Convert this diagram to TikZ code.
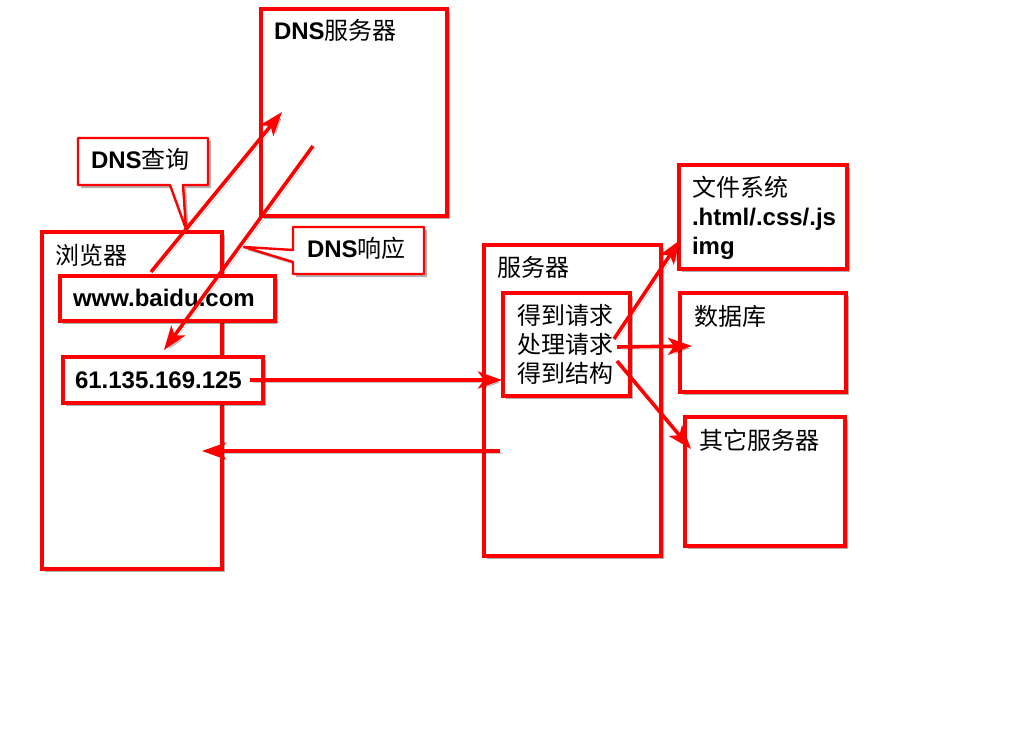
\documentclass[tikz,border=0pt]{standalone}
\usepackage{fontspec}
\setmainfont{Liberation Sans}
\newfontfamily\cjk[Scale=1.0]{Noto Sans CJK SC}
\usetikzlibrary{arrows.meta,shadows}
\tikzset{
  box/.style={draw=red, line width=3.2pt, fill=white, inner sep=0pt, outer sep=0pt,
    anchor=north west,
    drop shadow={shadow xshift=3pt, shadow yshift=-3pt, fill=black, opacity=0.3}},
  callout/.style={draw=red, line width=2.4pt, fill=white, line join=round,
    drop shadow={shadow xshift=3pt, shadow yshift=-3pt, fill=black, opacity=0.3}},
  txt/.style={font=\fontsize{24}{29}\selectfont, inner sep=0pt, outer sep=0pt,
    anchor=base west, align=left, text=black},
  arr/.style={draw=red, line width=3.6pt,
    -{Stealth[length=24pt, width=17pt, inset=6pt]},
    preaction={draw=black, opacity=0.22, transform canvas={xshift=2.5pt, yshift=-2.5pt}}}
}
\begin{document}
\begin{tikzpicture}[x=1pt, y=-1pt]
\useasboundingbox[fill=white] (0,0) rectangle (1024,738);

% main boxes
\node[box, minimum width=180pt, minimum height=337pt] (browser) at (42,232) {};
\node[box, minimum width=186pt, minimum height=207pt] (dns) at (261,9) {};
\node[box, minimum width=177pt, minimum height=311pt] (server) at (484,245) {};
\node[box, minimum width=168pt, minimum height=104pt] (fs) at (679,165) {};
\node[box, minimum width=166pt, minimum height=99pt] (db) at (680,293) {};
\node[box, minimum width=160pt, minimum height=129pt] (other) at (685,417) {};

% inner boxes
\node[box, minimum width=215pt, minimum height=45pt] (baidu) at (60,276) {};
\node[box, minimum width=200pt, minimum height=46pt] (ip) at (63,357) {};
\node[box, minimum width=127pt, minimum height=103pt] (proc) at (503,293) {};

% callouts
\draw[callout] (78,138) -- (208,138) -- (208,185) -- (183,185) -- (186,229)
  -- (170,185) -- (78,185) -- cycle;
\draw[callout] (293,227) -- (424,227) -- (424,274) -- (293,274) -- (293,262)
  -- (244,247) -- (293,250) -- cycle;

% texts
\node[txt] (browserlbl) at (55,264) {{\cjk 浏览器}};
\node[txt] (dnslbl) at (274,40) {\textbf{DNS}{\cjk 服务器}};
\node[txt] (querylbl) at (91,168) {\textbf{DNS}{\cjk 查询}};
\node[txt] (resplbl) at (307,257) {\textbf{DNS}{\cjk 响应}};
\node[txt] (baidulbl) at (73,306) {\textbf{www.baidu.com}};
\node[txt] (iplbl) at (75,388) {\textbf{61.135.169.125}};
\node[txt] (serverlbl) at (497,276) {{\cjk 服务器}};
\node[txt] (proclbl) at (517,382) {{\cjk 得到请求}\\{\cjk 处理请求}\\{\cjk 得到结构}};
\node[txt] (fslbl) at (692,254) {{\cjk 文件系统}\\\textbf{.html/.css/.js}\\\textbf{img}};
\node[txt] (dblbl) at (694,325) {{\cjk 数据库}};
\node[txt] (otherlbl) at (699,449) {{\cjk 其它服务器}};

% arrow end points
\coordinate (qs) at (151,272);
\coordinate (qe) at (282,112);
\coordinate (rs) at (313,146);
\coordinate (re) at (164,350);
\coordinate (reqs) at (250,380);
\coordinate (reqe) at (502,380);
\coordinate (ress) at (500,451);
\coordinate (rese) at (202,451);
\coordinate (fss) at (614,339);
\coordinate (fse) at (680,240);
\coordinate (dbs) at (617,347);
\coordinate (dbe) at (692,346);
\coordinate (os) at (617,361);
\coordinate (oe) at (691,449);

% arrows
\draw[arr] (qs) -- (qe);
\draw[arr] (rs) -- (re);
\draw[arr] (reqs) -- (reqe);
\draw[arr] (ress) -- (rese);
\draw[arr] (fss) -- (fse);
\draw[arr] (dbs) -- (dbe);
\draw[arr] (os) -- (oe);
\end{tikzpicture}
\end{document}
